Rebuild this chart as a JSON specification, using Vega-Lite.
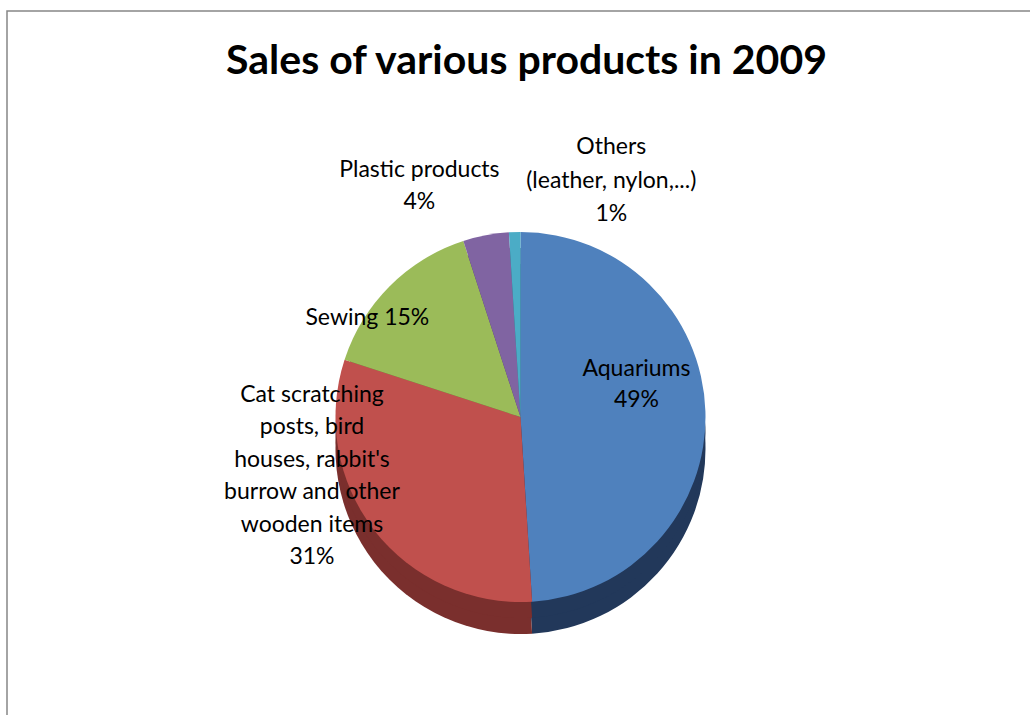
{
  "$schema": "https://vega.github.io/schema/vega-lite/v6.json",
  "width": 1030,
  "height": 715,
  "autosize": {"type": "fit", "contains": "padding"},
  "padding": {"left": 7, "top": 11, "right": -4, "bottom": -4},
  "background": "white",
  "view": {"stroke": "#868686", "strokeWidth": 1.5},
  "title": {"text": "Sales of various products in 2009", "font": "Lato", "fontSize": 41, "fontWeight": "bold", "color": "#000000", "anchor": "middle", "baseline": "top", "offset": -72, "dx": 6},
  "data": {"values": [
    {"product": "Aquariums", "share": 49, "label": "Aquariums\n49%"},
    {"product": "Cat scratching posts, bird houses, rabbit's burrow and other wooden items", "share": 31, "label": "Cat scratching\nposts, bird\nhouses, rabbit's\nburrow and other\nwooden items\n31%"},
    {"product": "Sewing", "share": 15, "label": "Sewing 15%"},
    {"product": "Plastic products", "share": 4, "label": "Plastic products\n4%"},
    {"product": "Others (leather, nylon,...)", "share": 1, "label": "Others\n(leather, nylon,...)\n1%"}
  ]},
  "encoding": {
    "theta": {"field": "share", "type": "quantitative", "stack": true},
    "order": {"field": "share", "sort": "descending"}
  },
  "layer": [
    {
      "mark": {"type": "arc", "outerRadius": 185, "yOffset": 84},
      "encoding": {"color": {"field": "product", "type": "nominal", "legend": null,
        "scale": {"domain": ["Aquariums", "Cat scratching posts, bird houses, rabbit's burrow and other wooden items", "Sewing", "Plastic products", "Others (leather, nylon,...)"],
                  "range": ["#22385A", "#7A2F2D", "#5E7235", "#4C3B62", "#2D6878"]}}}
    },
    {
      "mark": {"type": "arc", "outerRadius": 185, "yOffset": 68},
      "encoding": {"color": {"field": "product", "type": "nominal", "legend": null,
        "scale": {"domain": ["Aquariums", "Cat scratching posts, bird houses, rabbit's burrow and other wooden items", "Sewing", "Plastic products", "Others (leather, nylon,...)"],
                  "range": ["#22385A", "#7A2F2D", "#5E7235", "#4C3B62", "#2D6878"]}}}
    },
    {
      "mark": {"type": "arc", "outerRadius": 185, "yOffset": 52},
      "encoding": {"fill": {"field": "product", "type": "nominal", "legend": null,
        "scale": {"domain": ["Aquariums", "Cat scratching posts, bird houses, rabbit's burrow and other wooden items", "Sewing", "Plastic products", "Others (leather, nylon,...)"],
                  "range": ["#4F81BD", "#C0504D", "#9BBB59", "#8064A2", "#4BACC6"]}}}
    },
    {
      "mark": {"type": "text", "radius": 120, "yOffset": 52, "dx": -4, "dy": -44, "font": "Lato", "fontSize": 23, "lineBreak": "\n", "lineHeight": 31, "baseline": "middle", "align": "center", "color": "#000000"},
      "encoding": {"text": {"condition": {"test": "datum.product === 'Aquariums'", "field": "label"}, "value": ""}}
    },
    {
      "mark": {"type": "text", "radius": 150, "yOffset": 52, "dx": -90, "dy": -114, "font": "Lato", "fontSize": 23, "lineBreak": "\n", "lineHeight": 32.5, "baseline": "middle", "align": "center", "color": "#000000"},
      "encoding": {"text": {"condition": {"test": "datum.share === 31", "field": "label"}, "value": ""}}
    },
    {
      "mark": {"type": "text", "radius": 160, "yOffset": 52, "dx": -40, "dy": 14, "font": "Lato", "fontSize": 23, "lineBreak": "\n", "lineHeight": 31, "baseline": "middle", "align": "center", "color": "#000000"},
      "encoding": {"text": {"condition": {"test": "datum.product === 'Sewing'", "field": "label"}, "value": ""}}
    },
    {
      "mark": {"type": "text", "radius": 230, "yOffset": 52, "dx": -58, "dy": -21, "font": "Lato", "fontSize": 23, "lineBreak": "\n", "lineHeight": 32, "baseline": "middle", "align": "center", "color": "#000000"},
      "encoding": {"text": {"condition": {"test": "datum.product === 'Plastic products'", "field": "label"}, "value": ""}}
    },
    {
      "mark": {"type": "text", "radius": 230, "yOffset": 52, "dx": 98, "dy": -40, "font": "Lato", "fontSize": 23, "lineBreak": "\n", "lineHeight": 33.5, "baseline": "middle", "align": "center", "color": "#000000"},
      "encoding": {"text": {"condition": {"test": "datum.share === 1", "field": "label"}, "value": ""}}
    }
  ],
  "resolve": {"scale": {"color": "independent", "fill": "independent"}}
}
